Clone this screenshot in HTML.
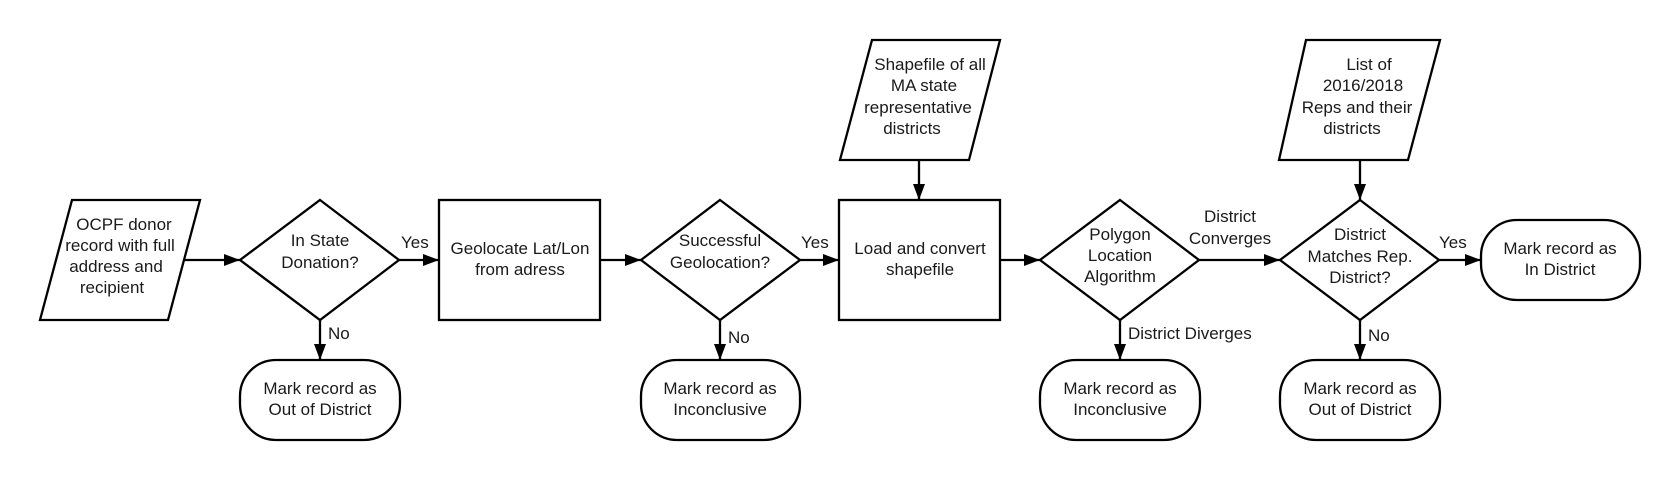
<!DOCTYPE html>
<html><head><meta charset="utf-8"><style>
html,body{margin:0;padding:0;background:#fff;width:1680px;height:480px;overflow:hidden}
svg text{font-family:"Liberation Sans",Arial,sans-serif;font-size:17px;fill:#1a1a1a}
</style></head><body>
<svg width="1680" height="480" viewBox="0 0 1680 480" xmlns="http://www.w3.org/2000/svg">
<defs><marker id="a" markerWidth="16" markerHeight="12" refX="16" refY="6" orient="auto" markerUnits="userSpaceOnUse"><path d="M0,0 L16,6 L0,12 z" fill="#000"/></marker></defs>
<g fill="#fff" stroke="#000" stroke-width="2.3">
<polygon points="72,200 200,200 168,320 40,320"/>
<polygon points="320,200 399,260 320,320 240,260"/>
<rect x="439" y="200" width="161" height="120"/>
<polygon points="720,200 800,260 720,320 641,260"/>
<rect x="839" y="200" width="161" height="120"/>
<polygon points="1120,200 1199,260 1120,320 1040,260"/>
<polygon points="1360,200 1439,260 1360,320 1280,260"/>
<rect x="1481" y="220" width="159" height="80" rx="36"/>
<rect x="240" y="360" width="160" height="80" rx="36"/>
<rect x="641" y="360" width="159" height="80" rx="36"/>
<rect x="1040" y="360" width="160" height="80" rx="36"/>
<rect x="1280" y="360" width="160" height="80" rx="36"/>
<polygon points="872,40 1000,40 969,160 840,160"/>
<polygon points="1306,40 1440,40 1408,160 1279,160"/>
</g>
<g stroke="#000" stroke-width="2.3" marker-end="url(#a)">
<line x1="185" y1="260" x2="240" y2="260"/>
<line x1="399" y1="260" x2="439" y2="260"/>
<line x1="600" y1="260" x2="641" y2="260"/>
<line x1="800" y1="260" x2="839" y2="260"/>
<line x1="1000" y1="260" x2="1040" y2="260"/>
<line x1="1199" y1="260" x2="1280" y2="260"/>
<line x1="1439" y1="260" x2="1481" y2="260"/>
<line x1="320" y1="320" x2="320" y2="360"/>
<line x1="720" y1="320" x2="720" y2="360"/>
<line x1="1120" y1="320" x2="1120" y2="360"/>
<line x1="1360" y1="320" x2="1360" y2="360"/>
<line x1="919" y1="160" x2="919" y2="200"/>
<line x1="1360" y1="160" x2="1360" y2="200"/>
</g>
<g text-anchor="middle">
<text x="124" y="230">OCPF donor</text><text x="120" y="251">record with full</text><text x="116" y="272">address and</text><text x="112" y="293">recipient</text>
<text x="320" y="246">In State</text><text x="320" y="268">Donation?</text>
<text x="520" y="254">Geolocate Lat/Lon</text><text x="520" y="275">from adress</text>
<text x="720" y="246">Successful</text><text x="720" y="268">Geolocation?</text>
<text x="920" y="254">Load and convert</text><text x="920" y="275">shapefile</text>
<text x="1120" y="240">Polygon</text><text x="1120" y="261">Location</text><text x="1120" y="282">Algorithm</text>
<text x="1360" y="240">District</text><text x="1360" y="262">Matches Rep.</text><text x="1360" y="283">District?</text>
<text x="1560" y="254">Mark record as</text><text x="1560" y="275">In District</text>
<text x="320" y="394">Mark record as</text><text x="320" y="415">Out of District</text>
<text x="720" y="394">Mark record as</text><text x="720" y="415">Inconclusive</text>
<text x="1120" y="394">Mark record as</text><text x="1120" y="415">Inconclusive</text>
<text x="1360" y="394">Mark record as</text><text x="1360" y="415">Out of District</text>
<text x="930" y="70">Shapefile of all</text><text x="924" y="91">MA state</text><text x="918" y="113">representative</text><text x="912" y="134">districts</text>
<text x="1369" y="70">List of</text><text x="1363" y="91">2016/2018</text><text x="1357" y="113">Reps and their</text><text x="1352" y="134">districts</text>
<text x="1230" y="222">District</text><text x="1230" y="244">Converges</text>
</g>
<text x="401" y="248">Yes</text>
<text x="801" y="248">Yes</text>
<text x="1439" y="248">Yes</text>
<text x="328" y="339">No</text>
<text x="728" y="343">No</text>
<text x="1368" y="341">No</text>
<text x="1128" y="339">District Diverges</text>
</svg>
</body></html>
